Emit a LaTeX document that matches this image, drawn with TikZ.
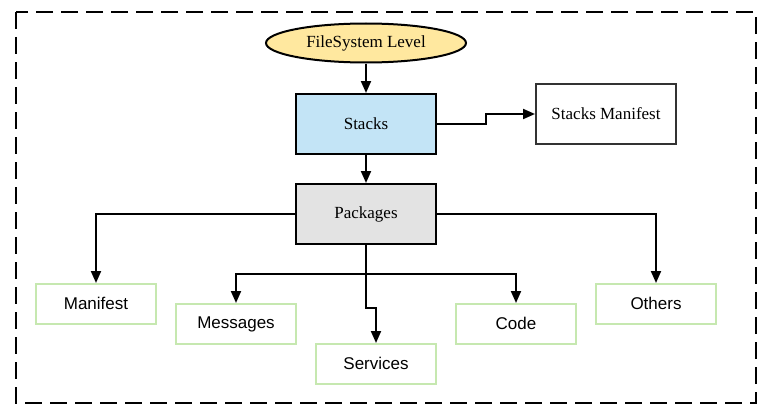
\documentclass[tikz,border=0pt]{standalone}
\usepackage{fontspec}
\setmainfont{Liberation Serif}
\newfontfamily\arialfont{Liberation Sans}
\usetikzlibrary{arrows.meta,shapes.geometric}
\definecolor{ellfill}{HTML}{FFE89F}
\definecolor{stackfill}{HTML}{C3E4F6}
\definecolor{pkgfill}{HTML}{E3E3E3}
\definecolor{greenline}{HTML}{C6E8B0}
\definecolor{darkline}{HTML}{333333}
\tikzset{
  conn/.style={line width=2pt, black, -{Triangle[length=12pt,width=10pt]}},
  mainbox/.style={draw=black, line width=2pt, minimum width=140pt, minimum height=60pt, inner sep=0pt, font=\fontsize{17}{19}\selectfont},
  leafbox/.style={draw=greenline, line width=2pt, minimum width=120pt, minimum height=40pt, inner sep=0pt, font=\arialfont\fontsize{17}{19}\selectfont},
}
\begin{document}
\begin{tikzpicture}[x=1pt,y=-1pt]
\useasboundingbox (0,0) rectangle (770,412);
\draw[line width=2pt, dash pattern=on 17pt off 8pt] (16,12) rectangle (756,403);
\node[ellipse, draw=black, line width=2pt, fill=ellfill, minimum width=200pt, minimum height=39pt, inner sep=0pt, font=\fontsize{17}{19}\selectfont] (fs) at (366,43) {FileSystem Level};
\node[mainbox, fill=stackfill] (stacks) at (366,124) {Stacks};
\node[mainbox, draw=darkline, fill=white] (sm) at (606,114) {Stacks Manifest};
\node[mainbox, fill=pkgfill] (pkg) at (366,214) {Packages};
\node[leafbox] (man) at (96,304) {\raisebox{2pt}{Manifest}};
\node[leafbox] (msg) at (236,324) {\raisebox{2pt}{Messages}};
\node[leafbox] (srv) at (376,364) {\raisebox{2pt}{Services}};
\node[leafbox] (code) at (516,324) {\raisebox{2pt}{Code}};
\node[leafbox] (oth) at (656,304) {\raisebox{2pt}{Others}};
\coordinate (split) at (366,274);
\draw[conn] (fs) -- (stacks);
\draw[conn] (stacks.east) -- (486,124) -- (486,114) -- (sm.west);
\draw[conn] (stacks) -- (pkg);
\draw[conn] (pkg.west) -| (man.north);
\draw[conn] (pkg.east) -| (oth.north);
\draw[line width=2pt] (pkg.south) -- (split);
\draw[conn] (split) -| (msg.north);
\draw[conn] (split) -| (code.north);
\draw[conn] (split) -- (366,308) -- (376,308) -- (srv.north);
\end{tikzpicture}
\end{document}
